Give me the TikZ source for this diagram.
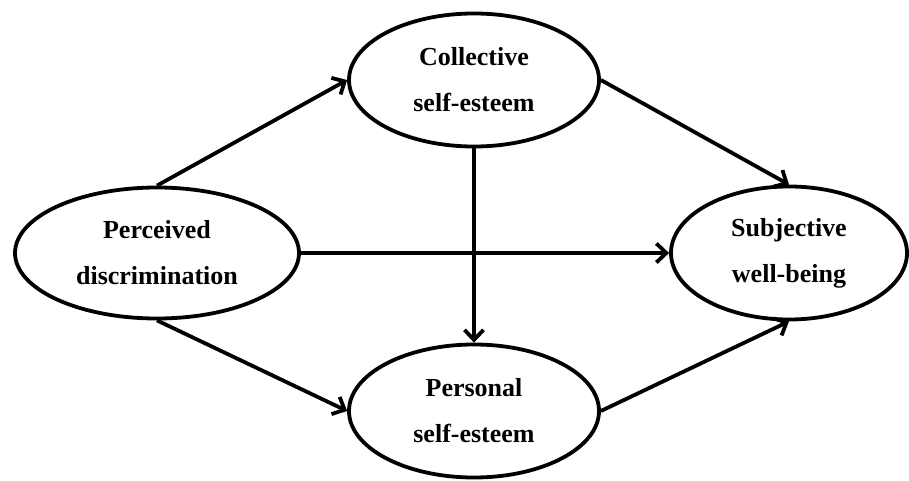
\documentclass[tikz,border=0pt]{standalone}
\usepackage{fontspec}
\setmainfont{Liberation Serif}
\usetikzlibrary{shapes.geometric,arrows.meta}
\begin{document}
\begin{tikzpicture}[x=1pt,y=-1pt,
  latent/.style={ellipse,draw,line width=3.8pt,inner sep=0pt,align=center,
    font=\fontsize{26}{46}\selectfont\bfseries},
  arr/.style={line width=3.8pt,-{Straight Barb[length=10pt,width=19pt]}}]
\useasboundingbox (0,0) rectangle (909,481);
\node[latent,minimum width=284pt,minimum height=131pt] (P) at (157,253) {Perceived\\discrimination};
\node[latent,minimum width=250pt,minimum height=133pt] (C) at (474,80) {Collective\\self-esteem};
\node[latent,minimum width=250pt,minimum height=133pt] (Pe) at (474,411) {Personal\\self-esteem};
\node[latent,minimum width=236pt,minimum height=133pt] (S) at (789,253) {Subjective\\well-being};
\draw[arr] (P.north) -- (C.west);
\draw[arr] (C.east) -- (S.north);
\draw[arr] (P.east) -- (S.west);
\draw[arr] (C.south) -- (Pe.north);
\draw[arr] (P.south) -- (Pe.west);
\draw[arr] (Pe.east) -- (S.south);
\end{tikzpicture}
\end{document}
